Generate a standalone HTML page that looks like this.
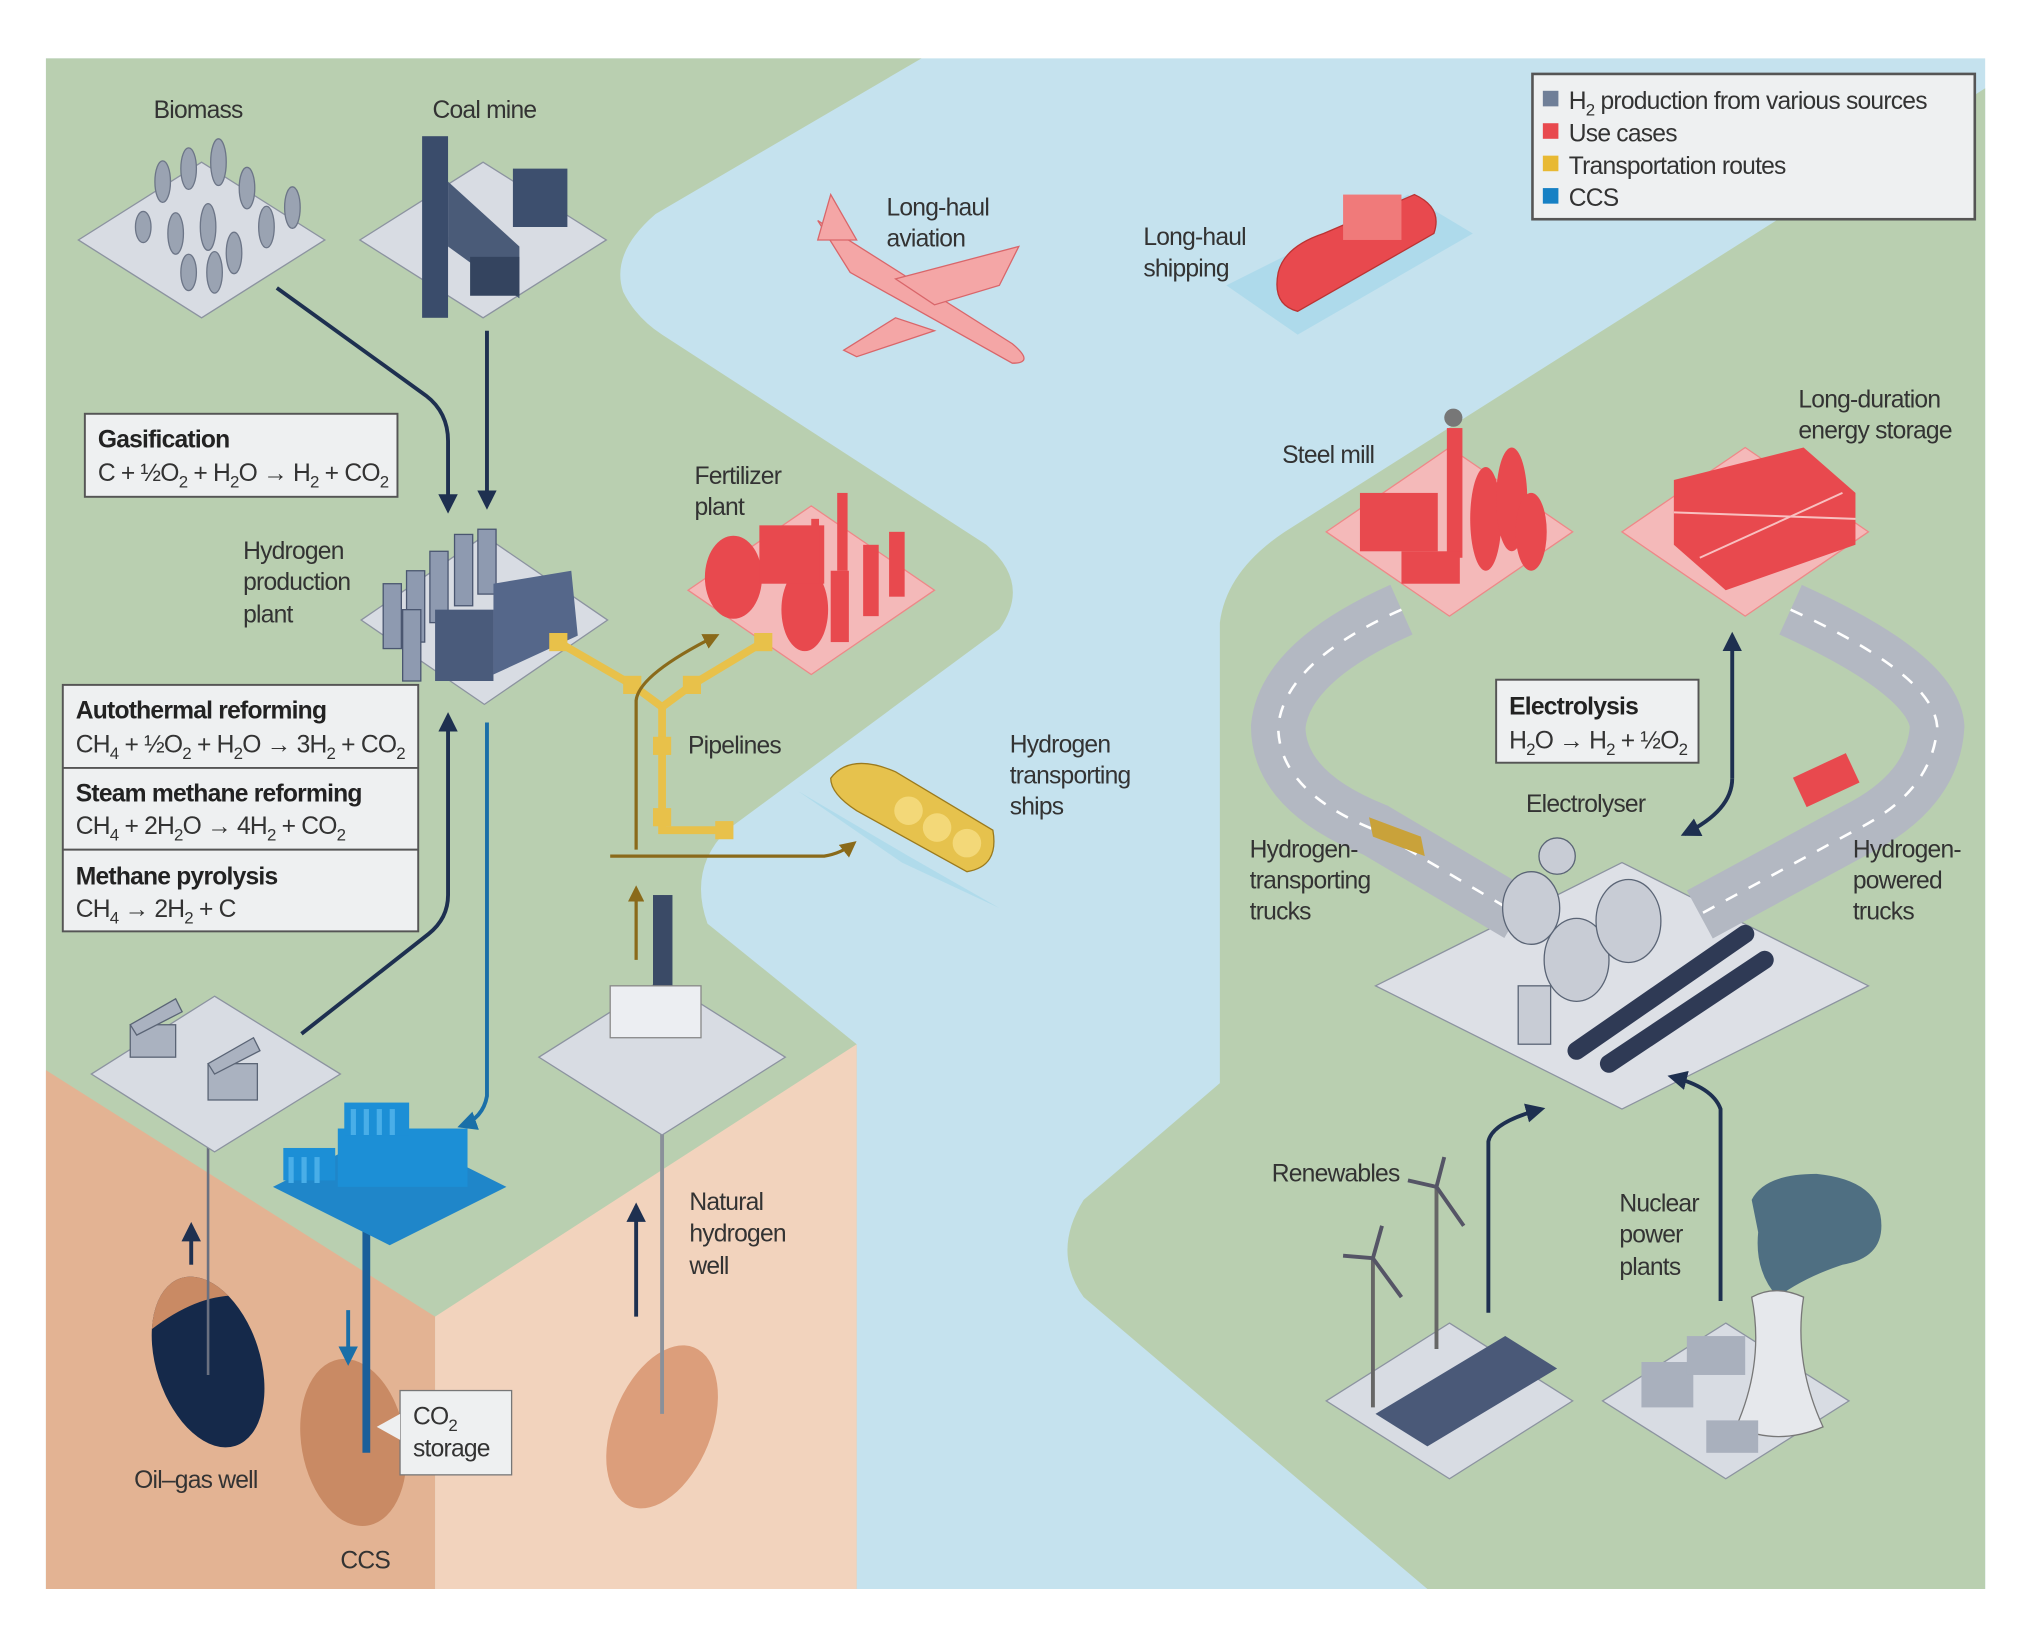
<!DOCTYPE html>
<html><head><meta charset="utf-8"><style>
html,body{margin:0;padding:0;background:#fff;}
svg{display:block;}
text{font-family:"Liberation Sans",sans-serif;fill:#333;font-size:19px;letter-spacing:-0.6px;}
.b{font-weight:bold;fill:#222;}
.s{font-size:13px;}
</style></head><body>
<svg width="2035" height="1637" viewBox="0 0 1568 1262" xmlns="http://www.w3.org/2000/svg">
<defs>
<marker id="an" viewBox="0 0 10 10" refX="8" refY="5" markerWidth="5" markerHeight="5" orient="auto"><path d="M0,0 L10,5 L0,10 Z" fill="#1e3050"/></marker>
<marker id="ab" viewBox="0 0 10 10" refX="8" refY="5" markerWidth="5" markerHeight="5" orient="auto"><path d="M0,0 L10,5 L0,10 Z" fill="#1a6fa8"/></marker>
<marker id="ag" viewBox="0 0 10 10" refX="8" refY="5" markerWidth="5" markerHeight="5" orient="auto"><path d="M0,0 L10,5 L0,10 Z" fill="#8a6a1a"/></marker>
<clipPath id="oc"><ellipse cx="160" cy="1050" rx="40" ry="68" transform="rotate(-18 160 1050)"/></clipPath>
</defs>
<rect x="35" y="45" width="1495" height="1180" fill="#c5e2ee"/>
<path d="M35,45 L710,45 L505,165 Q470,195 480,225 Q490,245 510,258 L760,420 Q795,450 770,485 L560,640 Q530,670 545,712 L660,805 L660,1225 L35,1225 Z" fill="#b9cfb0"/>
<path d="M35,825 L335,1015 L335,1225 L35,1225 Z" fill="#e3b393"/>
<path d="M335,1015 L660,805 L660,1225 L335,1225 Z" fill="#f2d3bd"/>
<path d="M1530,68 L1530,1225 L1100,1225 L835,1000 Q810,965 835,925 L940,835 L940,480 Q945,440 990,410 Z" fill="#b9cfb0"/>
<ellipse cx="160" cy="1050" rx="40" ry="68" transform="rotate(-18 160 1050)" fill="#15294a"/>
<path d="M100,960 L220,960 L220,1010 Q170,980 110,1030 Z" fill="#c98a64" clip-path="url(#oc)"/>
<ellipse cx="272" cy="1112" rx="40" ry="65" transform="rotate(-10 272 1112)" fill="#c98a64"/>
<ellipse cx="510" cy="1100" rx="38" ry="66" transform="rotate(22 510 1100)" fill="#dc9e7b"/>
<line x1="160" y1="830" x2="160" y2="1060" stroke="#6a7080" stroke-width="2"/>
<line x1="510" y1="690" x2="510" y2="1090" stroke="#8a909a" stroke-width="3"/>
<line x1="282" y1="930" x2="282" y2="1120" stroke="#1a5f9a" stroke-width="6"/>
<g stroke="#8c93a0" stroke-width="1">
<path d="M155,125 L250,185 L155,245 L60,185 Z" fill="#d8dce3"/>
<path d="M372,125 L467,185 L372,245 L277,185 Z" fill="#d8dce3"/>
<path d="M373,413 L468,478 L373,543 L278,478 Z" fill="#d8dce3"/>
<path d="M165,768 L262,828 L165,888 L70,828 Z" fill="#d8dce3"/>
<path d="M510,755 L605,815 L510,875 L415,815 Z" fill="#d8dce3"/>
<path d="M1250,665 L1440,760 L1250,855 L1060,760 Z" fill="#dde0e6"/>
<path d="M1117,1020 L1212,1080 L1117,1140 L1022,1080 Z" fill="#d8dce3"/>
<path d="M1330,1020 L1425,1080 L1330,1140 L1235,1080 Z" fill="#d8dce3"/>
</g>
<path d="M625,390 L720,455 L625,520 L530,455 Z" fill="#f4b9b9" stroke="#e88"/>
<path d="M1117,345 L1212,410 L1117,475 L1022,410 Z" fill="#f4b9b9" stroke="#e88"/>
<path d="M1345,345 L1440,410 L1345,475 L1250,410 Z" fill="#f4b9b9" stroke="#e88"/>
<path d="M300,870 L390,915 L300,960 L210,915 Z" fill="#1f86c9"/>
<g fill="#9aa3b2" stroke="#6c7587">
<ellipse cx="125" cy="140" rx="6" ry="16"/><ellipse cx="145" cy="130" rx="6" ry="16"/><ellipse cx="168" cy="125" rx="6" ry="18"/><ellipse cx="190" cy="145" rx="6" ry="16"/><ellipse cx="225" cy="160" rx="6" ry="16"/><ellipse cx="135" cy="180" rx="6" ry="16"/><ellipse cx="160" cy="175" rx="6" ry="18"/><ellipse cx="180" cy="195" rx="6" ry="16"/><ellipse cx="205" cy="175" rx="6" ry="16"/><ellipse cx="145" cy="210" rx="6" ry="14"/><ellipse cx="110" cy="175" rx="6" ry="12"/><ellipse cx="165" cy="210" rx="6" ry="16"/>
</g>
<rect x="325" y="105" width="20" height="140" fill="#3a4c6b"/>
<path d="M345,140 L400,190 L400,230 L345,190 Z" fill="#4a5b78"/>
<rect x="395" y="130" width="42" height="45" fill="#3d4f6e"/>
<rect x="362" y="198" width="38" height="30" fill="#34445f"/>
<g fill="#8e9ab0" stroke="#4a5670"><rect x="295" y="450" width="14" height="50"/><rect x="313" y="440" width="14" height="55"/><rect x="331" y="425" width="14" height="55"/><rect x="350" y="412" width="14" height="55"/><rect x="368" y="408" width="14" height="50"/><rect x="310" y="470" width="14" height="55"/></g>
<rect x="335" y="470" width="45" height="55" fill="#4a5b7b"/>
<path d="M380,450 L440,440 L445,490 L380,520 Z" fill="#55678a"/>
<g fill="#e8494e"><ellipse cx="565" cy="445" rx="22" ry="32"/><ellipse cx="620" cy="470" rx="18" ry="32"/><rect x="585" y="405" width="50" height="45"/><rect x="645" y="380" width="8" height="60"/><rect x="625" y="400" width="6" height="50"/><rect x="665" y="420" width="12" height="55"/><rect x="685" y="410" width="12" height="50"/><rect x="640" y="440" width="14" height="55"/></g>
<g fill="#aab2c0" stroke="#5a6475"><rect x="100" y="790" width="35" height="25"/><path d="M100,790 L135,770 L140,780 L105,798Z"/><rect x="160" y="820" width="38" height="28"/><path d="M160,820 L195,800 L200,810 L165,828Z"/></g>
<g fill="#1c8fd6"><rect x="218" y="885" width="40" height="25"/><rect x="260" y="870" width="100" height="45"/><rect x="265" y="850" width="50" height="25"/></g>
<g fill="#49aee8"><rect x="222" y="892" width="4" height="20"/><rect x="232" y="892" width="4" height="20"/><rect x="242" y="892" width="4" height="20"/><rect x="270" y="855" width="4" height="20"/><rect x="280" y="855" width="4" height="20"/><rect x="290" y="855" width="4" height="20"/><rect x="300" y="855" width="4" height="20"/></g>
<rect x="503" y="690" width="15" height="105" fill="#3a4a66"/>
<rect x="470" y="760" width="70" height="40" fill="#eceef2" stroke="#888"/>
<g stroke="#e8c14a" stroke-width="6" fill="none"><path d="M430,495 L487,528 L510,545 L510,640 L558,640"/><path d="M510,545 L533,528 L588,495"/></g>
<g fill="#e8c14a"><rect x="423" y="488" width="14" height="14"/><rect x="480" y="521" width="14" height="14"/><rect x="526" y="521" width="14" height="14"/><rect x="581" y="488" width="14" height="14"/><rect x="503" y="568" width="14" height="14"/><rect x="503" y="623" width="14" height="14"/><rect x="551" y="633" width="14" height="14"/></g>
<path d="M615,610 L700,660 L770,700 L695,665 Z" fill="#a7d8ea" opacity=".7"/>
<path d="M640,600 Q655,580 690,595 L765,640 Q770,668 745,672 L660,625 Q640,612 640,600 Z" fill="#e6c24d" stroke="#9b7a1d"/>
<circle cx="700" cy="625" r="11" fill="#f3d878"/><circle cx="722" cy="638" r="11" fill="#f3d878"/><circle cx="745" cy="650" r="11" fill="#f3d878"/>
<g fill="#f4a6a6" stroke="#d9666a"><path d="M630,170 L780,265 Q798,280 780,280 L655,210 Z"/><path d="M690,215 L785,190 L770,220 L720,235Z"/><path d="M690,245 L650,270 L660,275 L720,255Z"/><path d="M640,150 L630,185 L660,185Z"/></g>
<path d="M945,220 L1000,258 L1135,180 L1085,150 Z" fill="#a7d8ea" opacity=".8"/>
<path d="M985,210 Q990,190 1020,180 L1090,150 Q1112,160 1105,180 L1000,240 Q980,235 985,210 Z" fill="#e8494e" stroke="#b33"/>
<rect x="1035" y="150" width="45" height="35" fill="#f07a7a"/>
<g fill="#e8494e"><rect x="1048" y="380" width="60" height="45"/><rect x="1115" y="330" width="12" height="100"/><ellipse cx="1145" cy="400" rx="12" ry="40"/><ellipse cx="1165" cy="385" rx="12" ry="40"/><ellipse cx="1180" cy="410" rx="12" ry="30"/><rect x="1080" y="425" width="45" height="25"/></g>
<circle cx="1120" cy="322" r="7" fill="#777"/>
<g fill="#e8494e"><path d="M1290,370 L1390,345 L1430,380 L1430,420 L1330,455 L1290,420Z"/></g>
<g stroke="#f8c0c0" stroke-width="1.5"><line x1="1290" y1="395" x2="1430" y2="400"/><line x1="1310" y1="430" x2="1420" y2="380"/></g>
<g fill="none" stroke="#b3b8c2" stroke-width="42"><path d="M1080,470 Q990,510 985,560 Q985,610 1060,640 L1170,705"/><path d="M1380,470 Q1490,520 1493,560 Q1490,610 1430,640 L1310,705"/></g>
<g fill="none" stroke="#fff" stroke-width="2" stroke-dasharray="10 10"><path d="M1080,470 Q990,510 985,560 Q985,610 1060,640 L1170,705"/><path d="M1380,470 Q1490,520 1493,560 Q1490,610 1430,640 L1310,705"/></g>
<path d="M1055,630 L1095,645 L1098,660 L1058,645Z" fill="#c9a23a"/><rect x="1385" y="590" width="45" height="25" fill="#e8494e" transform="rotate(-25 1405 602)"/>
<g fill="#c8ccd5" stroke="#5a6475"><circle cx="1200" cy="660" r="14"/><ellipse cx="1215" cy="740" rx="25" ry="32"/><ellipse cx="1255" cy="710" rx="25" ry="32"/><ellipse cx="1180" cy="700" rx="22" ry="28"/><rect x="1170" y="760" width="25" height="45"/></g>
<g stroke="#2f3a55" stroke-width="14" stroke-linecap="round"><line x1="1215" y1="810" x2="1345" y2="720"/><line x1="1240" y1="820" x2="1360" y2="740"/></g>
<g stroke="#666" stroke-width="3"><line x1="1058" y1="970" x2="1058" y2="1085"/><line x1="1107" y1="915" x2="1107" y2="1040"/></g>
<g stroke="#556" stroke-width="3"><path d="M1058,970 L1035,968 M1058,970 L1080,1000 M1058,970 L1065,945"/><path d="M1107,915 L1085,910 M1107,915 L1128,945 M1107,915 L1113,892"/></g>
<g fill="#4a5978"><path d="M1060,1090 L1160,1030 L1200,1055 L1100,1115Z"/></g>
<path d="M1350,925 Q1360,905 1400,905 Q1450,910 1450,945 Q1450,970 1420,975 Q1390,985 1370,1000 Q1352,980 1355,950Z" fill="#4f6f82"/>
<path d="M1350,1000 Q1368,990 1390,1000 Q1382,1050 1405,1100 Q1370,1115 1338,1100 Q1360,1050 1350,1000Z" fill="#e6e8ec" stroke="#777"/>
<rect x="1265" y="1050" width="40" height="35" fill="#a9b0bd"/><rect x="1300" y="1030" width="45" height="30" fill="#a9b0bd"/><rect x="1315" y="1095" width="40" height="25" fill="#a9b0bd"/>
<g fill="none" stroke="#1e3050" stroke-width="3">
<path d="M213,222 L328,305 Q345,318 345,340 L345,393" marker-end="url(#an)"/>
<path d="M375,255 L375,390" marker-end="url(#an)"/>
<path d="M232,797 L330,720 Q345,708 345,690 L345,552" marker-end="url(#an)"/>
<path d="M147,975 L147,945" marker-end="url(#an)"/>
<path d="M490,1015 L490,930" marker-end="url(#an)"/>
<path d="M1335,600 L1335,490" marker-end="url(#an)"/>
<path d="M1335,600 Q1335,625 1298,643" marker-end="url(#an)"/>
<path d="M1147,1012 L1147,880 Q1150,865 1188,855" marker-end="url(#an)"/>
<path d="M1326,1003 L1326,855 Q1320,838 1288,830" marker-end="url(#an)"/>
</g>
<g fill="none" stroke="#1a6fa8" stroke-width="3">
<path d="M375,557 L375,845 Q372,862 355,868" marker-end="url(#ab)"/>
<path d="M268,1010 L268,1050" marker-end="url(#ab)"/>
</g>
<g fill="none" stroke="#8a6a1a" stroke-width="2.5">
<path d="M490,655 L490,540 Q492,520 552,490" marker-end="url(#ag)"/>
<path d="M470,660 L635,660 Q648,658 658,650" marker-end="url(#ag)"/>
<path d="M490,740 L490,685" marker-end="url(#ag)"/>
</g>
<rect x="1181" y="57" width="341" height="112" fill="#eef0f1" stroke="#555" stroke-width="2"/>
<rect x="1189" y="70" width="12" height="12" fill="#6f7f98"/><rect x="1189" y="95" width="12" height="12" fill="#e8494e"/><rect x="1189" y="120" width="12" height="12" fill="#e8b933"/><rect x="1189" y="145" width="12" height="12" fill="#1680c4"/>
<text x="1209" y="84">H<tspan class="s" dy="5">2</tspan><tspan dy="-5"> production from various sources</tspan></text>
<text x="1209" y="109">Use cases</text><text x="1209" y="134">Transportation routes</text><text x="1209" y="159">CCS</text>
<rect x="65" y="319" width="241" height="64" fill="#eef0f1" stroke="#555" stroke-width="1.5"/>
<text x="75" y="345" class="b">Gasification</text>
<text x="75" y="371">C + ½O<tspan class="s" dy="5">2</tspan><tspan dy="-5"> + H</tspan><tspan class="s" dy="5">2</tspan><tspan dy="-5">O → H</tspan><tspan class="s" dy="5">2</tspan><tspan dy="-5"> + CO</tspan><tspan class="s" dy="5">2</tspan></text>
<rect x="48" y="528" width="274" height="190" fill="#eef0f1" stroke="#555" stroke-width="1.5"/>
<line x1="48" y1="592" x2="322" y2="592" stroke="#555" stroke-width="1.5"/><line x1="48" y1="655" x2="322" y2="655" stroke="#555" stroke-width="1.5"/>
<text x="58" y="554" class="b">Autothermal reforming</text>
<text x="58" y="580">CH<tspan class="s" dy="5">4</tspan><tspan dy="-5"> + ½O</tspan><tspan class="s" dy="5">2</tspan><tspan dy="-5"> + H</tspan><tspan class="s" dy="5">2</tspan><tspan dy="-5">O → 3H</tspan><tspan class="s" dy="5">2</tspan><tspan dy="-5"> + CO</tspan><tspan class="s" dy="5">2</tspan></text>
<text x="58" y="618" class="b">Steam methane reforming</text>
<text x="58" y="643">CH<tspan class="s" dy="5">4</tspan><tspan dy="-5"> + 2H</tspan><tspan class="s" dy="5">2</tspan><tspan dy="-5">O → 4H</tspan><tspan class="s" dy="5">2</tspan><tspan dy="-5"> + CO</tspan><tspan class="s" dy="5">2</tspan></text>
<text x="58" y="682" class="b">Methane pyrolysis</text>
<text x="58" y="707">CH<tspan class="s" dy="5">4</tspan><tspan dy="-5"> → 2H</tspan><tspan class="s" dy="5">2</tspan><tspan dy="-5"> + C</tspan></text>
<rect x="1153" y="524" width="156" height="64" fill="#eef0f1" stroke="#555" stroke-width="1.5"/>
<text x="1163" y="551" class="b">Electrolysis</text>
<text x="1163" y="577">H<tspan class="s" dy="5">2</tspan><tspan dy="-5">O → H</tspan><tspan class="s" dy="5">2</tspan><tspan dy="-5"> + ½O</tspan><tspan class="s" dy="5">2</tspan></text>
<rect x="308" y="1072" width="86" height="65" fill="#eef0f1" stroke="#777"/>
<path d="M308,1090 L290,1100 L308,1110Z" fill="#eef0f1"/>
<text x="318" y="1098">CO<tspan class="s" dy="5">2</tspan></text><text x="318" y="1123">storage</text>
<text x="118" y="91">Biomass</text><text x="333" y="91">Coal mine</text>
<text x="187" y="431">Hydrogen</text><text x="187" y="455">production</text><text x="187" y="480">plant</text>
<text x="535" y="373">Fertilizer</text><text x="535" y="397">plant</text>
<text x="530" y="581">Pipelines</text>
<text x="778" y="580">Hydrogen</text><text x="778" y="604">transporting</text><text x="778" y="628">ships</text>
<text x="683" y="166">Long-haul</text><text x="683" y="190">aviation</text>
<text x="881" y="189">Long-haul</text><text x="881" y="213">shipping</text>
<text x="988" y="357">Steel mill</text>
<text x="1386" y="314">Long-duration</text><text x="1386" y="338">energy storage</text>
<text x="1176" y="626">Electrolyser</text>
<text x="963" y="661">Hydrogen-</text><text x="963" y="685">transporting</text><text x="963" y="709">trucks</text>
<text x="1428" y="661">Hydrogen-</text><text x="1428" y="685">powered</text><text x="1428" y="709">trucks</text>
<text x="980" y="911">Renewables</text>
<text x="1248" y="934">Nuclear</text><text x="1248" y="958">power</text><text x="1248" y="983">plants</text>
<text x="531" y="933">Natural</text><text x="531" y="957">hydrogen</text><text x="531" y="982">well</text>
<text x="103" y="1147">Oil–gas well</text>
<text x="262" y="1209">CCS</text>
</svg>
</body></html>
